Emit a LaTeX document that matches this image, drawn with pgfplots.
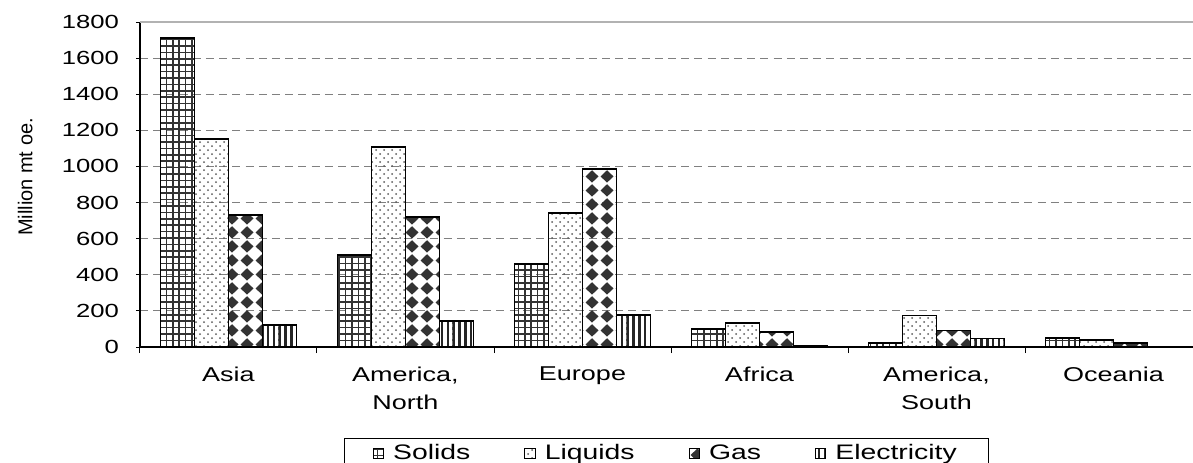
\documentclass[border=0pt]{standalone}
\usepackage{fontspec}
\setmainfont{Liberation Sans}
\newfontfamily\wide[FakeStretch=1.35]{Liberation Sans}
\usepackage{pgfplots}
\pgfplotsset{compat=1.18}
\usetikzlibrary{patterns}

% fills of the four sources
\pgfdeclarepatternformonly{sgrid}{\pgfqpoint{-0.5pt}{-0.5pt}}{\pgfqpoint{3.7pt}{3.7pt}}{\pgfqpoint{3.2pt}{3.2pt}}{
  \pgfsetlinewidth{0.75pt}
  \pgfpathmoveto{\pgfqpoint{0pt}{-0.2pt}}\pgfpathlineto{\pgfqpoint{0pt}{3.4pt}}
  \pgfpathmoveto{\pgfqpoint{-0.2pt}{0pt}}\pgfpathlineto{\pgfqpoint{3.4pt}{0pt}}
  \pgfusepath{stroke}}
\pgfdeclarepatternformonly{sdots}{\pgfqpoint{-0.5pt}{-0.5pt}}{\pgfqpoint{4.5pt}{4.5pt}}{\pgfqpoint{4pt}{4pt}}{
  \pgfpathcircle{\pgfqpoint{0pt}{0pt}}{0.5pt}
  \pgfpathcircle{\pgfqpoint{2pt}{2pt}}{0.5pt}
  \pgfusepath{fill}}
\pgfdeclarepatternformonly{diam}{\pgfqpoint{0pt}{0pt}}{\pgfqpoint{7.5pt}{7pt}}{\pgfqpoint{7.5pt}{7pt}}{
  \pgfpathmoveto{\pgfqpoint{3.75pt}{0.2pt}}
  \pgfpathlineto{\pgfqpoint{7.2pt}{3.5pt}}
  \pgfpathlineto{\pgfqpoint{3.75pt}{6.8pt}}
  \pgfpathlineto{\pgfqpoint{0.3pt}{3.5pt}}
  \pgfpathclose
  \pgfusepath{fill}}
\pgfdeclarepatternformonly{vlines}{\pgfqpoint{0pt}{-0.5pt}}{\pgfqpoint{2.9pt}{3.5pt}}{\pgfqpoint{2.9pt}{2.9pt}}{
  \pgfpathrectangle{\pgfqpoint{0pt}{-0.5pt}}{\pgfqpoint{1.25pt}{4pt}}
  \pgfusepath{fill}}

\begin{document}
\begin{tikzpicture}
\begin{axis}[
    name=ax,
    scale only axis,
    width=531pt, height=162.5pt,
    ybar=0pt, bar width=17pt,
    legend image code/.code={\draw[#1, line width=0.5pt] (0pt,-2.6pt) rectangle (5.2pt,2.6pt);},
    xmin=-0.5, xmax=5.5,
    ymin=0, ymax=1800,
    enlargelimits=false,
    axis lines=left,
    axis line style={-, black, line width=0.6pt},
    tick align=outside,
    xtick={0,...,5},
    xticklabels={Asia,{America,\\North},Europe,Africa,{America,\\South},Oceania},
    minor xtick={-0.5,0.5,...,5.5},
    major x tick style={draw=none},
    minor x tick style={black, line width=0.5pt},
    minor tick length=3pt,
    xticklabel style={align=center, font=\wide\fontsize{10}{14}\selectfont, yshift=-4.5pt},
    ytick={0,200,...,1600},
    extra y ticks={1800},
    extra y tick style={grid=major, major grid style={solid, black!30, line width=0.6pt}},
    y tick style={black, line width=0.5pt},
    major tick length=2pt,
    ymajorgrids,
    major grid style={dash pattern=on 4pt off 2.6pt, black!50, line width=0.5pt},
    yticklabel style={font=\wide\fontsize{9.5}{11}\selectfont, xshift=-5pt},
    /pgf/number format/assume math mode=true,
    /pgf/number format/set thousands separator={},
    ylabel={Million mt oe.},
    ylabel style={at={(axis description cs:-0.108,0.523)}, anchor=center, font=\fontsize{10}{11}\selectfont},
    legend columns=4,
    legend style={at={(axis description cs:0.496,-0.28)}, anchor=north,
        draw=black, line width=0.6pt, font=\wide\fontsize{10.5}{12}\selectfont,
        inner xsep=14pt, inner ysep=1pt,
        /tikz/every even column/.append style={column sep=25pt},
        /tikz/every odd column/.append style={column sep=2.5pt}},
    every axis plot/.append style={draw=black, line width=0.9pt},
]
\addplot[pattern=sgrid, pattern color=black!80] coordinates {(0,1711) (1,508) (2,460) (3,98) (4,22) (5,48)};
\addplot[pattern=sdots, pattern color=black!65] coordinates {(0,1152) (1,1109) (2,744) (3,133) (4,175) (5,37)};
\addplot[pattern=diam, pattern color=black!80] coordinates {(0,729) (1,720) (2,986) (3,81) (4,91) (5,22)};
\addplot[pattern=vlines, pattern color=black!85] coordinates {(0,120) (1,144) (2,177) (3,6) (4,47)};
\legend{Solids,Liquids,Gas,Electricity}
\end{axis}
\pgfresetboundingbox
\useasboundingbox ([shift={(-70pt,-57.5pt)}]ax.south west) rectangle ([shift={(526.5pt,173.5pt)}]ax.south west);
\end{tikzpicture}
\end{document}
